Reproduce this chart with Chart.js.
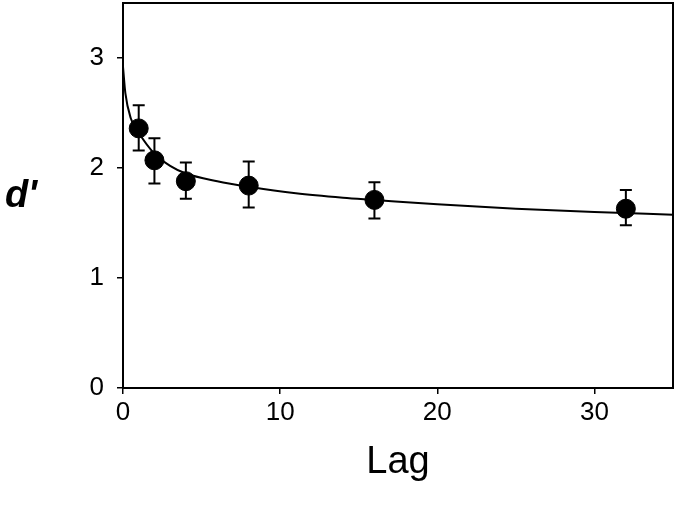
<!DOCTYPE html>
<html>
<head>
<meta charset="utf-8">
<script src="https://cdn.jsdelivr.net/npm/chart.js@4"></script>
<style>
  html, body { margin: 0; padding: 0; background: #fff; }
  #wrap { width: 677px; height: 507px; }
</style>
</head>
<body>
<div id="wrap"><canvas id="lagChart"></canvas></div>
<script>
// measured points
const lags = [1, 2, 4, 8, 16, 32];
const dPrime = [2.36, 2.07, 1.88, 1.84, 1.71, 1.63];
const errHigh = [2.57, 2.27, 2.05, 2.06, 1.87, 1.80];
const errLow = [2.16, 1.86, 1.72, 1.64, 1.54, 1.48];

// fitted curve
const curveX = [0, 0.15, 0.5, 1, 2, 3, 4, 6, 8, 11, 14, 16, 20, 25, 30, 35];
const curveY = [2.92, 2.68, 2.45, 2.32, 2.13, 2.02, 1.95, 1.88, 1.83, 1.77, 1.73, 1.71, 1.67, 1.63, 1.60, 1.575];

const xTicks = [0, 10, 20, 30];
const yTicks = [0, 1, 2, 3];

const fontName = "'Liberation Sans', Arial, sans-serif";

const errorBars = {
  id: 'errorBars',
  afterDatasetsDraw(chart) {
    const ctx = chart.ctx;
    const xs = chart.scales.x, ys = chart.scales.y;
    ctx.save();
    ctx.strokeStyle = '#000';
    ctx.lineWidth = 2;
    for (let i = 0; i < lags.length; i++) {
      const px = xs.getPixelForValue(lags[i]);
      const top = ys.getPixelForValue(errHigh[i]);
      const bot = ys.getPixelForValue(errLow[i]);
      ctx.beginPath();
      ctx.moveTo(px, top); ctx.lineTo(px, bot);
      ctx.moveTo(px - 6, top); ctx.lineTo(px + 6, top);
      ctx.moveTo(px - 6, bot); ctx.lineTo(px + 6, bot);
      ctx.stroke();
    }
    ctx.restore();
  },
  afterDraw(chart) {
    const ctx = chart.ctx;
    const a = chart.chartArea;
    ctx.save();
    ctx.strokeStyle = '#000';
    ctx.lineWidth = 2;
    ctx.strokeRect(a.left, a.top, a.right - a.left, a.bottom - a.top);
    ctx.fillStyle = '#000';
    ctx.font = "italic bold 38px " + fontName;
    ctx.textAlign = 'center';
    ctx.textBaseline = 'middle';
    ctx.fillText("d'", 21, 197);
    ctx.restore();
  }
};

new Chart(document.getElementById('lagChart'), {
  type: 'scatter',
  data: {
    datasets: [
      {
        type: 'line',
        data: curveX.map((x, i) => ({ x: x, y: curveY[i] })),
        borderColor: '#000',
        borderWidth: 2,
        pointRadius: 0,
        cubicInterpolationMode: 'monotone',
        fill: false,
        order: 2
      },
      {
        data: lags.map((x, i) => ({ x: x, y: dPrime[i] })),
        backgroundColor: '#000',
        borderColor: '#000',
        pointRadius: 9.5,
        pointHoverRadius: 9.5,
        order: 1
      }
    ]
  },
  options: {
    responsive: true,
    maintainAspectRatio: false,
    animation: false,
    layout: { autoPadding: false, padding: { top: 3, right: 4, left: 0, bottom: 0 } },
    plugins: { legend: { display: false }, tooltip: { enabled: false } },
    scales: {
      x: {
        type: 'linear',
        min: 0,
        max: 35,
        afterFit(scale) {
          scale.height = 119;
          scale.paddingLeft = 0;
          scale.paddingRight = 0;
        },
        afterBuildTicks(scale) { scale.ticks = xTicks.map(v => ({ value: v })); },
        grid: { drawOnChartArea: false, color: '#000', lineWidth: 1.5, tickLength: 6 },
        border: { color: '#000', width: 2 },
        ticks: { color: '#000', padding: 3, font: { family: fontName, size: 26 } },
        title: {
          display: true,
          text: 'Lag',
          color: '#000',
          font: { family: fontName, size: 38 },
          padding: { top: 0, bottom: 22 }
        }
      },
      y: {
        min: 0,
        max: 3.5,
        afterFit(scale) {
          scale.width = 123;
          scale.paddingTop = 0;
          scale.paddingBottom = 0;
        },
        afterBuildTicks(scale) { scale.ticks = yTicks.map(v => ({ value: v })); },
        grid: { drawOnChartArea: false, color: '#000', lineWidth: 1.5, tickLength: 6 },
        border: { color: '#000', width: 2 },
        ticks: { color: '#000', padding: 13, font: { family: fontName, size: 26 } }
      }
    }
  },
  plugins: [errorBars]
});
</script>
</body>
</html>
